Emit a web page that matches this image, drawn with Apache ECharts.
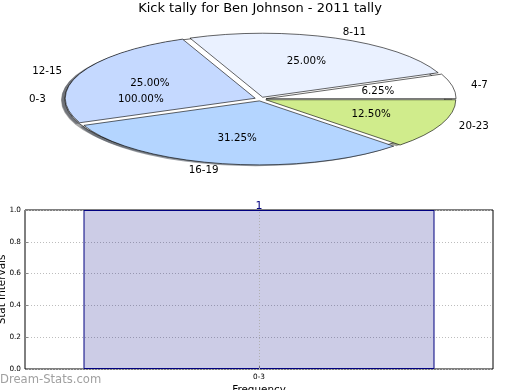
<!DOCTYPE html>
<html><head><meta charset="utf-8">
<script src="https://cdn.jsdelivr.net/npm/echarts@6/dist/echarts.min.js"></script>
<style>html,body{margin:0;padding:0;background:#fff}#c{width:520px;height:390px}</style>
</head><body><div id="c"></div>
<script>
// ---- data ----
const titleText = 'Kick tally for Ben Johnson - 2011 tally';
const pieCategories = ['0-3', '4-7', '8-11', '12-15', '16-19', '20-23'];
const piePercents = [100, 6.25, 25, 25, 31.25, 12.5];
const pieColors = ['#ffffff', '#ffffff', '#eaf1ff', '#c5d9ff', '#b4d5ff', '#d0ec8c'];
const barCategories = ['0-3'];
const barValues = [1];
const yMin = 0, yMax = 1, yStep = 0.2;
const xAxisTitle = 'Frequency';
const yAxisTitle = 'Stat Intervals';
const watermark = 'Dream-Stats.com';

// ---- layout ----
const FONT = '"DejaVu Sans", Verdana, sans-serif';
const CX = 260.5, CY = 99, R = 190, K = 64 / 190, EXPLODE = 0.03, SHADOW = 0.02;
const cum = []; let acc = 0;
piePercents.forEach(v => { cum.push(acc); acc += v; });

function shadowOf(hex) {
  const n = parseInt(hex.slice(1), 16);
  const r = (n >> 16) & 255, g = (n >> 8) & 255, b = n & 255;
  return 'rgba(' + Math.round(r * 0.3) + ',' + Math.round(g * 0.3) + ',' + Math.round(b * 0.3) + ',0.5)';
}

function renderSlice(params, api) {
  const i = params.dataIndex;
  const v = api.value(0);
  const a0 = cum[i] / 100 * 2 * Math.PI;
  const a1 = a0 + v / 100 * 2 * Math.PI;
  const mid = (a0 + a1) / 2;
  const ex = EXPLODE * R * Math.cos(mid), ey = -EXPLODE * R * Math.sin(mid);
  const shape = { r: R, r0: 0, startAngle: -a1, endAngle: -a0, clockwise: true };
  const lx = CX + (1.1 + EXPLODE) * R * Math.cos(mid);
  const ly = CY - (1.1 + EXPLODE) * R * K * Math.sin(mid);
  const px = CX + (0.6 + EXPLODE) * R * Math.cos(mid);
  const py = CY - (0.6 + EXPLODE) * R * K * Math.sin(mid);
  return {
    type: 'group',
    children: [
      {
        type: 'group', x: CX, y: CY, scaleY: K,
        children: [
          { type: 'sector', z2: 1,
            shape: Object.assign({ cx: ex - SHADOW * R, cy: ey + SHADOW * R }, shape),
            style: { fill: shadowOf(pieColors[i]) } },
          { type: 'sector', z2: 10 + i,
            shape: Object.assign({ cx: ex, cy: ey }, shape),
            style: { fill: pieColors[i], stroke: '#000', lineWidth: 0.9, strokeNoScale: true } }
        ]
      },
      { type: 'text', z2: 100, x: lx, y: ly,
        style: { text: pieCategories[i], fill: '#000',
                 font: '10.3px ' + FONT, align: Math.cos(mid) > 0 ? 'left' : 'right', verticalAlign: 'middle' } },
      { type: 'text', z2: 100, x: px, y: py,
        style: { text: v.toFixed(2) + '%', fill: '#000', font: '10.3px ' + FONT,
                 align: 'center', verticalAlign: 'middle' } }
    ]
  };
}

const chart = echarts.init(document.getElementById('c'), null, { renderer: 'canvas' });
chart.setOption({
  animation: false,
  backgroundColor: '#fff',
  title: {
    text: titleText, left: 'center', top: 2, padding: 0,
    textStyle: { fontFamily: FONT, fontSize: 13, fontWeight: 'normal', color: '#000' }
  },
  graphic: [
    { type: 'text', left: 0, top: 374, silent: true,
      style: { text: watermark, fill: '#a0a0a0', font: '11.6px ' + FONT } },
    { type: 'text', x: 259, y: 390, silent: true,
      style: { text: xAxisTitle, fill: '#000', font: '10.4px ' + FONT, align: 'center', verticalAlign: 'middle' } },
    { type: 'text', x: 2, y: 289.5, rotation: Math.PI / 2, silent: true,
      style: { text: yAxisTitle, fill: '#000', font: '10.4px ' + FONT, align: 'center', verticalAlign: 'middle' } }
  ],
  grid: { left: 25, top: 210, width: 468, height: 159, show: true, borderColor: '#000', borderWidth: 1,
          backgroundColor: 'transparent', containLabel: false, outerBoundsMode: 'none' },
  xAxis: {
    type: 'category', data: barCategories, boundaryGap: true,
    axisLine: { show: false },
    axisTick: { show: true, inside: true, alignWithLabel: true, length: 3, lineStyle: { color: '#888' } },
    axisLabel: { fontFamily: FONT, fontSize: 7.3, color: '#000', margin: 5 },
    splitLine: { show: false }
  },
  yAxis: {
    type: 'value', min: yMin, max: yMax, interval: yStep,
    axisLine: { show: false },
    axisTick: { show: true, inside: true, length: 3, lineStyle: { color: '#888' } },
    axisLabel: { fontFamily: FONT, fontSize: 7.3, color: '#000', margin: 4, formatter: v => v.toFixed(1) },
    splitLine: { show: true, lineStyle: { color: '#bdbdbd', type: [1, 2], width: 1 } }
  },
  series: [
    {
      type: 'custom', coordinateSystem: 'none', silent: true,
      data: piePercents.map((v, i) => [v, i]),
      renderItem: renderSlice
    },
    {
      type: 'bar', data: barValues, barWidth: '75%', silent: true,
      itemStyle: { color: 'rgba(0,0,128,0.2)', borderColor: '#000080', borderWidth: 1 },
      label: { show: true, position: 'top', distance: -2, color: '#000080', fontFamily: FONT, fontSize: 11, formatter: p => String(p.value) },
      markLine: {
        silent: true, symbol: 'none', label: { show: false },
        lineStyle: { color: '#b0b0b0', type: [1, 2], width: 1 },
        data: [{ xAxis: barCategories[0] }]
      }
    }
  ]
});
</script>
</body></html>
